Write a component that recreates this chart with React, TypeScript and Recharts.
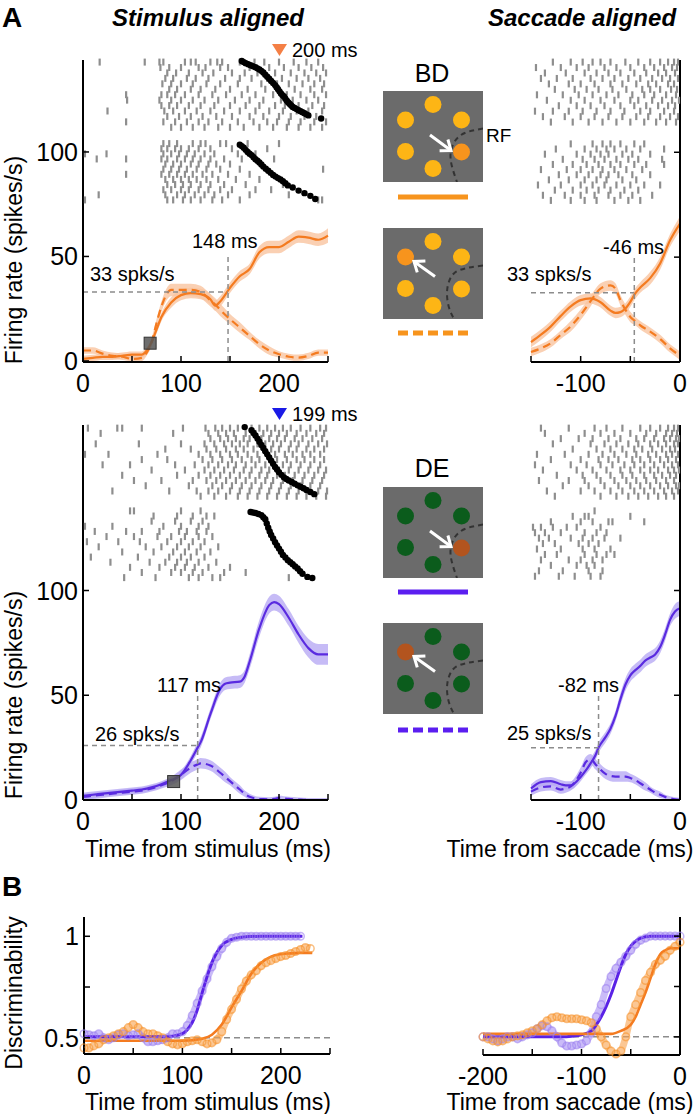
import React from 'react';
import { ComposedChart, Line, Area, Scatter, XAxis, YAxis, ReferenceLine, ReferenceArea, Cell } from 'recharts';

const FONT = '"Liberation Sans", Arial, Helvetica, sans-serif';
const ORANGE = '#F47B20';
const ORANGE_BAND = '#F9C4A0';
const PURPLE = '#5A2BE0';
const PURPLE_BAND = '#B8AAF4';
const RASTER_GRAY = '#8e8e8e';
const REF_GRAY = '#8c8c8c';
const AXIS = { stroke: '#000', strokeWidth: 2 };

// ---------- Panel A, BD (orange), stimulus aligned ----------
const bdStimTime = [0, 10, 20, 30, 40, 50, 60, 65, 70, 75, 80, 90, 100, 110, 120, 130, 135, 140, 150, 160, 170, 180, 190, 200, 210, 220, 230, 240, 250];
const bdStimSolid = [1, 1.5, 2, 2, 2.5, 3, 3, 5, 9, 15, 21, 28, 31.5, 32.5, 32, 29.5, 26.5, 28.5, 35, 40.5, 44, 52, 54.5, 54.5, 57, 59.5, 59, 58, 60];
const bdStimSolidSe = [1.5, 1.5, 1.5, 1.5, 1.5, 1.5, 1.5, 1.5, 1.5, 2, 2, 2.5, 2.5, 2.5, 2.5, 2.5, 2.5, 2.5, 2.5, 2.5, 2.5, 3, 3, 3, 3, 3, 3, 3, 3.5];
const bdStimDashed = [5, 5, 3.5, 2.5, 2, 1, 1.5, 4, 9, 18, 26, 34, 34, 34, 33, 29, 27, 24.5, 20, 16, 12, 8, 5, 3.2, 2, 1.6, 2.4, 4, 4];
const bdStimDashedSe = [1.5, 1.5, 1.5, 1.5, 1.5, 1.5, 1.5, 1.5, 2, 2, 2.5, 3, 3, 3, 3, 3, 3, 3, 2.5, 2.5, 2, 2, 2, 1.5, 1.5, 1.5, 1.5, 1.5, 1.5];

const bdStimRasterIn = [
  [17, 63, 78, 82, 104, 110, 115, 130, 137, 142, 160, 175, 185, 200, 215, 228, 240],
  [79, 88, 100, 118, 125, 140, 148, 170, 190, 205, 220, 233, 245],
  [86, 95, 108, 122, 133, 152, 165, 178, 196, 212, 226, 238, 248],
  [84, 92, 106, 115, 128, 145, 160, 172, 188, 203, 218, 230, 242],
  [81, 90, 100, 112, 126, 140, 158, 182, 198, 210, 224, 236, 246],
  [88, 96, 110, 120, 135, 150, 168, 186, 200, 216, 232, 244],
  [44, 80, 86, 94, 104, 118, 132, 146, 162, 176, 194, 208, 222, 236, 248],
  [45, 78, 90, 100, 112, 124, 138, 155, 170, 184, 202, 214, 228, 240],
  [80, 88, 96, 108, 120, 134, 150, 166, 180, 196, 206, 220, 234, 246],
  [25, 83, 92, 104, 116, 130, 144, 160, 176, 190, 204, 218, 230, 244],
  [86, 98, 110, 122, 136, 152, 170, 184, 200, 212, 226, 238],
  [44, 82, 94, 106, 118, 128, 142, 158, 174, 188, 198, 210, 222, 236, 248],
  [90, 100, 112, 124, 138, 150, 164, 180, 194, 208, 220, 232, 244],
];
const bdStimRasterOut = [
  [82, 88, 96, 112, 120, 125, 140, 146, 168, 200],
  [80, 86, 94, 100, 108, 118, 130, 152, 188],
  [2, 24, 82, 90, 98, 106, 114, 124, 134, 158, 176],
  [14, 44, 80, 86, 96, 104, 112, 120, 130, 144, 162, 195],
  [84, 92, 100, 110, 118, 128, 136, 150],
  [82, 90, 98, 106, 116, 126, 140, 160, 245],
  [44, 80, 88, 96, 104, 112, 122, 132, 148, 170],
  [84, 92, 100, 108, 116, 126, 138, 156, 180],
  [86, 94, 102, 110, 120, 130, 144, 166, 204],
  [82, 90, 100, 108, 118, 128, 140, 152, 176, 192],
  [16, 84, 96, 104, 114, 124, 134, 148, 170, 210],
  [2, 86, 92, 102, 110, 120, 132, 142, 160, 240, 244],
];
const bdSaccadeTimesIn = [[162, 143.5], [164, 143], [166, 142.5], [168.5, 142], [171, 141.5], [173.5, 141], [176, 140.5], [178, 140], [180, 139.5], [182, 138.8], [184, 138], [186, 137], [188, 136], [190, 135], [192, 134], [194, 133], [196, 132], [197.5, 131], [199, 130], [200.5, 129], [202, 128], [203.5, 127.2], [205, 126.5], [206.5, 125.5], [208, 124.5], [209.5, 123.7], [211, 123], [212.5, 122.2], [214, 121.5], [216, 121], [218, 120.5], [220, 120], [222, 119.5], [224, 119], [226, 118.5], [228, 118], [230, 117.5], [243, 116]];
const bdSaccadeTimesOut = [[160, 103.5], [162, 102.8], [164, 102], [166, 101], [168, 100], [170, 99.2], [172, 98.5], [174, 97.5], [176, 96.5], [178, 95.8], [180, 95], [182, 94], [184, 93], [186.5, 92], [189, 91], [191.5, 90], [194, 89], [196.5, 88.2], [199, 87.5], [201.5, 86.8], [204, 86], [206.5, 85], [209, 84], [214, 83], [220, 81.5], [226, 80.3], [232, 79], [237, 77.5]];

// ---------- Panel A, BD (orange), saccade aligned ----------
const bdSacTime = [-150, -140, -130, -120, -110, -100, -90, -80, -70, -65, -60, -55, -50, -45, -40, -30, -20, -10, 0];
const bdSacSolid = [9.5, 13, 17, 22, 26.5, 29.5, 30.3, 28.5, 24.5, 23.4, 23.8, 25.5, 28.7, 32.7, 35.5, 40, 47, 58, 66];
const bdSacSolidSe = [2.5, 2.5, 2.5, 2.5, 2.5, 2.5, 2.5, 2.5, 2.5, 2.5, 2.5, 2.5, 2.5, 2.5, 2.5, 3, 3, 3, 3.5];
const bdSacDashed = [4.8, 6.5, 9, 13, 17, 22.5, 29, 35, 36.5, 35, 29.5, 25, 21.5, 19.5, 17.5, 14.5, 11, 6.5, 3];
const bdSacDashedSe = [2, 2, 2, 2, 2.5, 2.5, 2.5, 2.5, 2.5, 2.5, 2.5, 2.5, 2.5, 2, 2, 2, 2, 2, 2];
const bdSacRasterIn = [
  [-128, -110, -98, -88, -80, -70, -55, -42, -30, -20, -12, -6, -2],
  [-145, -120, -104, -92, -76, -64, -50, -36, -26, -16, -8, -3],
  [-136, -115, -96, -84, -72, -60, -46, -34, -22, -14, -5],
  [-140, -124, -108, -90, -78, -66, -52, -40, -28, -18, -10, -2],
  [-132, -112, -100, -86, -70, -58, -44, -32, -24, -12, -6],
  [-126, -106, -94, -82, -68, -54, -38, -30, -20, -9, -3],
  [-144, -118, -102, -88, -74, -62, -48, -36, -26, -14, -4],
  [-134, -110, -96, -80, -66, -50, -42, -28, -18, -8, -1],
  [-122, -104, -90, -76, -60, -46, -34, -22, -12, -5],
  [-146, -128, -112, -98, -84, -70, -56, -40, -30, -16, -6],
  [-138, -116, -100, -86, -72, -58, -44, -32, -20, -10, -2],
  [-130, -108, -92, -78, -64, -50, -36, -24, -14, -4],
];
const bdSacRasterOut = [
  [-110, -88, -78, -70, -60, -46, -36],
  [-125, -96, -84, -74, -66, -54, -40, -16],
  [-136, -104, -90, -80, -72, -58, -48, -30],
  [-118, -98, -86, -76, -64, -52, -42, -18],
  [-128, -108, -94, -82, -70, -60, -46, -34, -16],
  [-140, -114, -100, -88, -78, -66, -54, -38],
  [-122, -104, -92, -80, -72, -62, -48, -30],
  [-132, -112, -96, -84, -74, -58, -44],
  [-143, -120, -100, -88, -76, -64, -50, -36, -20],
  [-126, -108, -94, -82, -70, -56, -42],
  [-138, -116, -100, -86, -72, -60, -48, -28],
  [-130, -110, -96, -84, -66, -52, -40],
];

// ---------- Panel A, DE (purple), stimulus aligned ----------
const deStimTime = [0, 10, 20, 30, 40, 50, 60, 70, 80, 90, 100, 110, 117, 120, 130, 140, 145, 150, 160, 165, 170, 180, 190, 195, 200, 210, 220, 230, 240, 250];
const deStimSolid = [2, 2.5, 3, 3.5, 4, 4.5, 5, 6, 7.5, 9.5, 12, 19, 25, 27.5, 41, 53, 55.5, 56, 56.5, 59, 66, 82, 93, 94.5, 93.5, 87, 79, 72.5, 69.5, 69.5];
const deStimSolidSe = [1.5, 1.5, 1.5, 1.5, 1.5, 1.5, 1.5, 1.5, 1.5, 1.5, 2, 2, 2.5, 2.5, 2.5, 3, 3, 3, 3, 3, 3.5, 4, 4, 4, 4, 4, 4, 4.5, 5, 5];
const deStimDashed = [1.5, 2, 2.5, 3, 3.5, 4, 4.5, 5.5, 7, 9, 12, 15.5, 17, 17.5, 16.5, 13, 11, 9, 5, 3, 1.5, 0.5, 0.3, 0.5, 1, 0.5, 0.2, 0, 0, 0];
const deStimDashedSe = [1.5, 1.5, 1.5, 1.5, 1.5, 1.5, 1.5, 1.5, 1.5, 2, 2.5, 2.5, 2.5, 2.5, 2.5, 2.5, 2.5, 2, 2, 1.5, 1.5, 1, 1, 1, 1, 1, 1, 1, 1, 1];
const deStimRasterIn = [
  [5, 35, 40, 60, 102, 125, 135, 142, 150, 158, 172, 180, 188, 196, 204, 212, 222, 232, 242, 248],
  [18, 92, 128, 138, 146, 154, 166, 176, 184, 192, 200, 208, 218, 228, 238, 246],
  [130, 140, 148, 156, 164, 170, 182, 190, 198, 206, 216, 224, 234, 244],
  [13, 57, 100, 124, 134, 144, 152, 160, 168, 178, 186, 194, 202, 212, 220, 230, 240, 249],
  [84, 110, 126, 136, 146, 156, 164, 174, 184, 192, 200, 210, 218, 228, 236, 246],
  [2, 26, 76, 118, 130, 140, 150, 158, 168, 178, 188, 196, 206, 214, 224, 232, 242],
  [60, 86, 122, 132, 142, 152, 162, 172, 180, 190, 198, 208, 218, 226, 236, 246],
  [20, 48, 94, 114, 128, 138, 148, 156, 166, 176, 186, 194, 204, 212, 222, 232, 242],
  [70, 104, 124, 134, 144, 154, 164, 172, 182, 190, 200, 210, 220, 230, 240, 248],
  [40, 96, 118, 130, 140, 150, 160, 170, 180, 188, 198, 206, 216, 226, 236, 246],
  [52, 80, 112, 126, 136, 146, 156, 166, 176, 186, 194, 204, 214, 224, 234, 244],
  [64, 108, 132, 142, 152, 162, 172, 182, 192, 202, 212, 222, 232, 242],
  [30, 88, 116, 128, 138, 150, 160, 170, 180, 190, 200, 210, 220, 230, 240, 249],
  [120, 134, 146, 158, 168, 178, 188, 198, 208, 218, 228, 238, 248],
];
const deStimRasterOut = [
  [48, 52, 100, 120],
  [72, 96, 112, 126, 134],
  [70, 94, 110, 122],
  [2, 30, 82, 100, 118, 128],
  [12, 44, 60, 78, 98, 106, 116, 126],
  [24, 52, 76, 90, 104, 118, 132],
  [4, 36, 58, 86, 100, 112, 124],
  [16, 64, 80, 96, 108, 120, 138],
  [40, 72, 92, 104, 116, 130],
  [8, 56, 88, 100, 110, 124],
  [28, 68, 84, 96, 106, 118, 136],
  [48, 78, 94, 104, 114, 128, 150],
  [60, 90, 100, 112, 122, 144, 166],
  [42, 74, 108, 118, 132, 140, 210],
];
const deSaccadeTimesIn = [[165, 178], [172, 176.5], [174, 175.2], [176, 174], [178, 172.5], [180, 171], [182, 169.5], [184, 168], [186, 166.5], [188, 165], [190, 163.5], [192, 162], [194, 160.5], [196, 159], [198, 157.8], [200, 156.5], [202.5, 155.2], [205, 154], [207.5, 153.2], [210, 152.5], [213, 151.8], [216, 151], [219, 150.2], [222, 149.5], [225, 148.8], [228, 148], [232, 147], [236, 146]];
const deSaccadeTimesOut = [[171, 137.5], [173.5, 137.2], [176, 137], [179, 136.5], [182, 136], [184, 135], [186, 134], [187.5, 132], [189, 130], [190.5, 128.2], [192, 126.5], [194, 124.8], [196, 123], [198, 121.5], [200, 120], [202, 118.5], [204, 117], [206.5, 115.8], [209, 114.5], [211.5, 113.5], [214, 112.5], [216.5, 111.5], [219, 110.5], [221.5, 109.2], [224, 108], [229, 106.5], [234, 106]];

// ---------- Panel A, DE (purple), saccade aligned ----------
const deSacTime = [-150, -140, -130, -120, -115, -110, -100, -95, -90, -85, -82, -75, -70, -65, -60, -55, -50, -45, -40, -35, -30, -25, -20, -15, -10, -5, 0];
const deSacSolid = [5.5, 8.5, 9, 7.5, 7, 7, 11, 14, 17.5, 21.5, 25, 30, 34, 40, 48, 55, 59.5, 62, 64, 66.5, 68, 69.5, 73, 79, 86, 90, 91.5];
const deSacSolidSe = [2, 2, 2, 2, 2, 2, 2, 2, 2.5, 2.5, 2.5, 2.5, 2.5, 2.5, 3, 3, 3, 3, 3, 3, 3, 3, 3, 3, 3, 3.5, 3.5];
const deSacDashed = [4, 6, 6.5, 5, 5.5, 6.5, 13, 18, 19.5, 17, 15.5, 12.5, 11.5, 11.2, 11.2, 11.2, 10.5, 9.5, 8, 6.5, 5, 3.5, 2.5, 1.5, 0.8, 0.3, 0];
const deSacDashedSe = [2, 2, 2, 2, 2, 2, 2.5, 2.5, 2.5, 2.5, 2.5, 2.5, 2.5, 2.5, 2.5, 2.5, 2, 2, 2, 2, 1.5, 1.5, 1.5, 1, 1, 1, 1];
const deSacRasterIn = [
  [-140, -112, -86, -74, -58, -40, -30, -20, -12, -6, -2],
  [-136, -96, -80, -66, -50, -34, -24, -14, -8, -3],
  [-120, -102, -88, -72, -60, -44, -36, -26, -16, -10, -4, -1],
  [-128, -90, -76, -64, -52, -42, -30, -22, -14, -6, -2],
  [-108, -84, -70, -58, -46, -38, -28, -18, -10, -5],
  [-144, -116, -92, -78, -66, -54, -44, -32, -24, -14, -8, -2],
  [-130, -100, -82, -72, -62, -48, -40, -30, -20, -12, -4],
  [-146, -110, -94, -80, -68, -56, -46, -36, -26, -16, -8, -2],
  [-138, -104, -88, -74, -60, -50, -40, -30, -22, -12, -6, -1],
  [-124, -98, -84, -70, -58, -48, -36, -26, -18, -10, -4],
  [-142, -112, -96, -80, -66, -54, -44, -34, -24, -14, -6],
  [-118, -92, -76, -62, -50, -40, -30, -20, -12, -4, -1],
  [-134, -100, -86, -70, -58, -46, -36, -26, -16, -8, -2],
  [-126, -80, -64, -52, -42, -32, -22, -14, -6],
];
const deSacRasterOut = [
  [-86],
  [-108, -96, -92, -50],
  [-130, -100, -88, -72, -68, -36],
  [-148, -140, -128, -114, -104, -80],
  [-146, -136, -120, -96, -84, -74],
  [-142, -132, -110, -98, -88, -76, -60],
  [-138, -126, -102, -92, -82],
  [-144, -120, -98, -86, -70],
  [-136, -124, -96, -84, -74, -66],
  [-140, -112, -100, -88, -78],
  [-130, -104, -94, -86],
  [-142, -118, -92, -78],
  [-146, -122, -106, -90, -80],
];

// ---------- Panel B, discriminability ----------
const bStimPurpleT = [0, 5, 10, 15, 20, 25, 30, 35, 40, 45, 50, 55, 60, 65, 70, 75, 80, 85, 90, 95, 100, 105, 110, 115, 120, 125, 130, 135, 140, 145, 150, 155, 160, 165, 170, 175, 180, 185, 190, 195, 200, 205, 210, 215, 220];
const bStimPurple = [0.52, 0.515, 0.51, 0.52, 0.5, 0.49, 0.5, 0.515, 0.52, 0.51, 0.515, 0.52, 0.5, 0.48, 0.48, 0.485, 0.49, 0.5, 0.52, 0.52, 0.53, 0.56, 0.61, 0.67, 0.73, 0.79, 0.85, 0.9, 0.94, 0.97, 0.99, 0.995, 1, 1, 1, 1, 1, 1, 1, 1, 1, 1, 1, 1, 1];
const bStimOrangeT = [0, 5, 10, 15, 20, 25, 30, 35, 40, 45, 50, 55, 60, 65, 70, 75, 80, 85, 90, 95, 100, 105, 110, 115, 120, 125, 130, 135, 140, 145, 150, 155, 160, 165, 170, 175, 180, 185, 190, 195, 200, 205, 210, 215, 220, 225, 230];
const bStimOrange = [0.45, 0.45, 0.46, 0.47, 0.49, 0.5, 0.51, 0.52, 0.53, 0.55, 0.565, 0.55, 0.53, 0.52, 0.52, 0.51, 0.5, 0.48, 0.47, 0.465, 0.47, 0.48, 0.485, 0.49, 0.48, 0.47, 0.475, 0.49, 0.53, 0.59, 0.64, 0.69, 0.74, 0.78, 0.81, 0.83, 0.855, 0.87, 0.88, 0.89, 0.9, 0.905, 0.915, 0.925, 0.935, 0.945, 0.94];
const bStimPurpleFitT = [0, 20, 40, 60, 80, 90, 100, 105, 110, 115, 120, 125, 130, 135, 140, 150, 160, 180, 200, 222];
const bStimPurpleFit = [0.505, 0.505, 0.505, 0.505, 0.505, 0.508, 0.52, 0.54, 0.575, 0.635, 0.72, 0.8, 0.87, 0.92, 0.955, 0.985, 0.995, 1, 1, 1];
const bStimOrangeFitT = [0, 20, 40, 60, 80, 100, 110, 120, 130, 140, 150, 160, 170, 180, 190, 200, 210, 220, 232];
const bStimOrangeFit = [0.485, 0.485, 0.485, 0.485, 0.485, 0.486, 0.488, 0.495, 0.515, 0.565, 0.65, 0.73, 0.815, 0.87, 0.9, 0.912, 0.916, 0.918, 0.918];

const bSacT = [-200, -195, -190, -185, -180, -175, -170, -165, -160, -155, -150, -145, -140, -135, -130, -125, -120, -115, -110, -105, -100, -95, -90, -85, -80, -75, -70, -65, -60, -55, -50, -45, -40, -35, -30, -25, -20, -15, -10, -5, 0];
const bSacPurple = [0.5, 0.5, 0.49, 0.48, 0.49, 0.5, 0.5, 0.49, 0.5, 0.51, 0.52, 0.54, 0.555, 0.55, 0.53, 0.5, 0.47, 0.455, 0.455, 0.46, 0.465, 0.48, 0.52, 0.6, 0.66, 0.74, 0.8, 0.84, 0.87, 0.9, 0.93, 0.96, 0.98, 0.99, 1, 1, 1, 1, 1, 1, 1];
const bSacOrange = [0.5, 0.49, 0.48, 0.475, 0.48, 0.49, 0.5, 0.505, 0.51, 0.52, 0.53, 0.54, 0.56, 0.58, 0.595, 0.6, 0.595, 0.59, 0.59, 0.59, 0.585, 0.58, 0.57, 0.54, 0.5, 0.46, 0.43, 0.415, 0.43, 0.5, 0.6, 0.66, 0.72, 0.78, 0.82, 0.86, 0.88, 0.9, 0.93, 0.95, 0.97];
const bSacPurpleFitT = [-200, -150, -120, -110, -100, -90, -85, -80, -75, -70, -65, -60, -55, -50, -45, -40, -30, 0];
const bSacPurpleFit = [0.5, 0.5, 0.5, 0.503, 0.51, 0.53, 0.56, 0.6, 0.65, 0.71, 0.78, 0.85, 0.91, 0.95, 0.975, 0.99, 1, 1];
const bSacOrangeFitT = [-200, -150, -100, -70, -60, -50, -45, -40, -35, -30, -25, -20, -15, -10, 0];
const bSacOrangeFit = [0.515, 0.515, 0.515, 0.515, 0.53, 0.56, 0.6, 0.66, 0.72, 0.79, 0.86, 0.91, 0.93, 0.94, 0.94];

// ---------- schematic targets ----------
const hexX = [0, -27.5, 28.5, -27.5, 28.5, 0];
const hexY = [32, 16.5, 16.5, -15, -15.5, -32];
const rfNear = [[50, 8], [36, 5], [26, 0], [20, -8], [17.5, -18], [19, -30], [24, -45.5]];
const rfFar = [[50, 8], [34, 5.5], [22, 1], [16, -8], [14, -20], [16, -34], [21, -45.5]];
const arrowIn = [[-3, 1.5], [18, -14]];
const arrowOut = [[2, -3], [-19, 12]];

// ---------- helpers ----------
const makeRows = (t: number[], s: number[], sSe: number[], d: number[], dSe: number[]) =>
  t.map((x, i) => ({
    t: x,
    s: s[i],
    d: d[i],
    sBand: [s[i] - sSe[i], s[i] + sSe[i]],
    dBand: [Math.max(0, d[i] - dSe[i]), d[i] + dSe[i]],
  }));

const rasterPoints = (rows: number[][], top: number, step: number) =>
  rows.flatMap((row, i) => row.map((t) => ({ t, v: top - i * step })));

const pairs = (p: number[][]) => p.map(([t, v]) => ({ t, v }));
const series = (t: number[], v: number[]) => t.map((x, i) => ({ t: x, v: v[i] }));

const XTick = (p: any) => {
  const { x, y, payload, labels } = p;
  return (
    <g>
      <line x1={x} x2={x} y1={y} y2={y - 6} stroke="#000" strokeWidth={1.5} />
      {labels.includes(payload.value) && (
        <text x={x} y={y + 30} textAnchor="middle" fontSize={25} fontFamily={FONT} fill="#000">
          {payload.value}
        </text>
      )}
    </g>
  );
};

const YTick = (p: any) => {
  const { x, y, payload, labels, side } = p;
  const dir = side === 'left' ? 1 : -1;
  return (
    <g>
      <line x1={x} x2={x + dir * 6} y1={y} y2={y} stroke="#000" strokeWidth={1.5} />
      {labels.includes(payload.value) && (
        <text x={x - 5} y={y + 9} textAnchor="end" fontSize={25} fontFamily={FONT} fill="#000">
          {payload.value}
        </text>
      )}
    </g>
  );
};

const RasterTick = (p: any) => <rect x={p.cx - 1.1} y={p.cy - 3.5} width={2.2} height={7} fill={RASTER_GRAY} />;
const SaccadeDot = (p: any) => <circle cx={p.cx} cy={p.cy} r={3.2} fill="#000" />;
const Square = (p: any) => <rect x={p.cx - 6} y={p.cy - 6} width={12} height={12} fill="#555" fillOpacity={0.85} stroke="#333" strokeWidth={1} />;

type Box = { x: number; y: number; w: number; h: number };

function Frame(props: any) {
  const { box, side, xDomain, yDomain, xTicks, xLabels, yTicks, yLabels, data, children } = props;
  const padL = side === 'left' ? 70 : 36;
  const padR = side === 'right' ? 70 : 14;
  const padT = 12;
  const padB = 40;
  return (
    <div style={{ position: 'absolute', left: box.x - padL, top: box.y - padT }}>
      <ComposedChart
        width={box.w + padL + padR}
        height={box.h + padT + padB}
        data={data}
        margin={{ top: padT, bottom: 0, left: side === 'left' ? 0 : padL, right: side === 'right' ? 0 : padR }}
      >
        <XAxis dataKey="t" type="number" domain={xDomain} ticks={xTicks} interval={0} height={padB}
          tickSize={0} tickMargin={0} tickLine={false} axisLine={AXIS} tick={<XTick labels={xLabels} />} />
        <YAxis type="number" domain={yDomain} ticks={yTicks} interval={0} orientation={side}
          width={side === 'left' ? padL : padR} tickSize={0} tickMargin={0} tickLine={false}
          axisLine={AXIS} tick={<YTick labels={yLabels} side={side} />} />
        {children}
      </ComposedChart>
    </div>
  );
}

function RatePanel(props: any) {
  const { rows, color, band, rasterIn, rasterOut, dotsIn, dotsOut, square, thr, cross, xStart } = props;
  return (
    <Frame {...props} data={rows}>
      <Scatter data={rasterIn} dataKey="v" shape={RasterTick} isAnimationActive={false} />
      <Scatter data={rasterOut} dataKey="v" shape={RasterTick} isAnimationActive={false} />
      {dotsIn && <Scatter data={dotsIn} dataKey="v" shape={SaccadeDot} isAnimationActive={false} />}
      {dotsOut && <Scatter data={dotsOut} dataKey="v" shape={SaccadeDot} isAnimationActive={false} />}
      <Area dataKey="dBand" type="monotone" fill={band} fillOpacity={0.8} stroke="none" isAnimationActive={false} />
      <Area dataKey="sBand" type="monotone" fill={band} fillOpacity={0.8} stroke="none" isAnimationActive={false} />
      <Line dataKey="d" type="monotone" stroke={color} strokeWidth={2.2} strokeDasharray="8 5" dot={false} isAnimationActive={false} />
      <Line dataKey="s" type="monotone" stroke={color} strokeWidth={2.2} dot={false} isAnimationActive={false} />
      <ReferenceLine segment={[{ x: xStart, y: thr }, { x: cross, y: thr }]} stroke={REF_GRAY} strokeWidth={1.5} strokeDasharray="5 4" />
      <ReferenceLine segment={[{ x: cross, y: 0 }, { x: cross, y: 50 }]} stroke={REF_GRAY} strokeWidth={1.5} strokeDasharray="5 4" />
      {square && <Scatter data={square} dataKey="v" shape={Square} isAnimationActive={false} />}
    </Frame>
  );
}

function DiscPanel(props: any) {
  const { purple, orange, purpleFit, orangeFit, xStart, xEnd } = props;
  const circles = (color: string) => ({ r: 3.8, stroke: color, strokeWidth: 1.5, fill: 'none' });
  return (
    <Frame {...props} data={purpleFit}>
      <ReferenceLine segment={[{ x: xStart, y: 0.5 }, { x: xEnd, y: 0.5 }]} stroke={REF_GRAY} strokeWidth={1.5} strokeDasharray="6 4" />
      <Line data={purple} dataKey="v" type="monotone" stroke="#A78DF3" strokeOpacity={0.6} strokeWidth={7} dot={circles('#9F84F0')} isAnimationActive={false} />
      <Line data={orange} dataKey="v" type="monotone" stroke="#F9A24C" strokeOpacity={0.6} strokeWidth={7} dot={circles('#F7952F')} isAnimationActive={false} />
      <Line data={purpleFit} dataKey="v" type="monotone" stroke="#5A22E6" strokeWidth={3} dot={false} isAnimationActive={false} />
      <Line data={orangeFit} dataKey="v" type="monotone" stroke={ORANGE} strokeWidth={2.6} dot={false} isAnimationActive={false} />
    </Frame>
  );
}

function Schematic(props: any) {
  const { left, top, dotColor, targetColor, target, rf, arrow } = props;
  const dots = hexX.map((x, i) => ({ x, y: hexY[i] }));
  const rfData = rf.map(([x, y]: number[]) => ({ x, y }));
  const arrowData = arrow.map(([x, y]: number[]) => ({ x, y }));
  const ang = Math.atan2(-(arrow[1][1] - arrow[0][1]), arrow[1][0] - arrow[0][0]);
  const head = (p: any) => {
    if (p.index !== 1) return <g key={`h${p.index}`} />;
    const pt = (dx: number, dy: number) =>
      `${p.cx + dx * Math.cos(ang) - dy * Math.sin(ang)},${p.cy + dx * Math.sin(ang) + dy * Math.cos(ang)}`;
    return (
      <polyline key="head" points={`${pt(-9, -7)} ${pt(0, 0)} ${pt(-9, 7)}`} fill="none" stroke="#fff" strokeWidth={3} strokeLinejoin="miter" />
    );
  };
  return (
    <div style={{ position: 'absolute', left, top }}>
      <ComposedChart width={100} height={91} margin={{ top: 0, right: 0, bottom: 0, left: 0 }}>
        <XAxis dataKey="x" type="number" domain={[-50, 50]} hide />
        <YAxis type="number" domain={[-45.5, 45.5]} hide />
        <ReferenceArea x1={-50} x2={50} y1={-45.5} y2={45.5} fill="#6b6b6b" fillOpacity={1} stroke="none" />
        <Line data={rfData} dataKey="y" type="natural" stroke="#333" strokeWidth={2} strokeDasharray="5 4" dot={false} isAnimationActive={false} />
        <Scatter data={dots} dataKey="y" isAnimationActive={false} shape={(p: any) => <circle cx={p.cx} cy={p.cy} r={8.5} fill={p.fill} />}>
          {dots.map((_, i) => (
            <Cell key={`c${i}`} fill={i === target ? targetColor : dotColor} />
          ))}
        </Scatter>
        <Line data={arrowData} dataKey="y" type="linear" stroke="#fff" strokeWidth={3} dot={head} isAnimationActive={false} />
      </ComposedChart>
    </div>
  );
}

const txt = (x: number, y: number, s: string, size = 20, extra: any = {}) => (
  <text x={x} y={y} fontSize={size} fontFamily={FONT} fill="#000" {...extra}>{s}</text>
);

export default function App() {
  const topStim: Box = { x: 83, y: 60, w: 245, h: 302 };
  const topSac: Box = { x: 531, y: 60, w: 149, h: 302 };
  const botStim: Box = { x: 83, y: 425, w: 245, h: 375 };
  const botSac: Box = { x: 531, y: 425, w: 149, h: 375 };
  const bStim: Box = { x: 84, y: 917, w: 246, h: 137 };
  const bSac: Box = { x: 483, y: 917, w: 197, h: 138 };

  const stimX = { xDomain: [0, 250], xTicks: [0, 50, 100, 150, 200, 250], xLabels: [0, 100, 200] };
  const sacX = { xDomain: [-150, 0], xTicks: [-150, -100, -50, 0], xLabels: [-100, 0] };

  return (
    <div style={{ position: 'absolute', left: 0, top: 0, width: 698, height: 1114, background: '#fff', fontFamily: FONT }}>
      <RatePanel box={topStim} side="left" {...stimX} yDomain={[0, 144]} yTicks={[0, 50, 100]} yLabels={[0, 50, 100]}
        rows={makeRows(bdStimTime, bdStimSolid, bdStimSolidSe, bdStimDashed, bdStimDashedSe)} color={ORANGE} band={ORANGE_BAND}
        rasterIn={rasterPoints(bdStimRasterIn, 143, 2.6)} rasterOut={rasterPoints(bdStimRasterOut, 104, 2.45)}
        dotsIn={pairs(bdSaccadeTimesIn)} dotsOut={pairs(bdSaccadeTimesOut)} square={[{ t: 68.5, v: 8.5 }]}
        thr={33} cross={148} xStart={0} />
      <RatePanel box={topSac} side="right" {...sacX} yDomain={[0, 144]} yTicks={[0, 50, 100]} yLabels={[]}
        rows={makeRows(bdSacTime, bdSacSolid, bdSacSolidSe, bdSacDashed, bdSacDashedSe)} color={ORANGE} band={ORANGE_BAND}
        rasterIn={rasterPoints(bdSacRasterIn, 143, 2.6)} rasterOut={rasterPoints(bdSacRasterOut, 104, 2.45)}
        thr={33} cross={-46} xStart={-150} />
      <RatePanel box={botStim} side="left" {...stimX} yDomain={[0, 179]} yTicks={[0, 50, 100]} yLabels={[0, 50, 100]}
        rows={makeRows(deStimTime, deStimSolid, deStimSolidSe, deStimDashed, deStimDashedSe)} color={PURPLE} band={PURPLE_BAND}
        rasterIn={rasterPoints(deStimRasterIn, 177.5, 2.5)} rasterOut={rasterPoints(deStimRasterOut, 138, 2.45)}
        dotsIn={pairs(deSaccadeTimesIn)} dotsOut={pairs(deSaccadeTimesOut)} square={[{ t: 92.5, v: 8.8 }]}
        thr={26} cross={117} xStart={0} />
      <RatePanel box={botSac} side="right" {...sacX} yDomain={[0, 179]} yTicks={[0, 50, 100]} yLabels={[]}
        rows={makeRows(deSacTime, deSacSolid, deSacSolidSe, deSacDashed, deSacDashedSe)} color={PURPLE} band={PURPLE_BAND}
        rasterIn={rasterPoints(deSacRasterIn, 177.5, 2.5)} rasterOut={rasterPoints(deSacRasterOut, 138, 2.6)}
        thr={25} cross={-82} xStart={-150} />

      <DiscPanel box={bStim} side="left" {...stimX} yDomain={[0.42, 1.095]} yTicks={[0.5, 0.75, 1]} yLabels={[0.5, 1]}
        purple={series(bStimPurpleT, bStimPurple)} orange={series(bStimOrangeT, bStimOrange)}
        purpleFit={series(bStimPurpleFitT, bStimPurpleFit)} orangeFit={series(bStimOrangeFitT, bStimOrangeFit)}
        xStart={0} xEnd={250} />
      <DiscPanel box={bSac} side="right" xDomain={[-200, 0]} xTicks={[-200, -150, -100, -50, 0]} xLabels={[-200, -100, 0]}
        yDomain={[0.41, 1.095]} yTicks={[0.5, 0.75, 1]} yLabels={[]}
        purple={series(bSacT, bSacPurple)} orange={series(bSacT, bSacOrange)}
        purpleFit={series(bSacPurpleFitT, bSacPurpleFit)} orangeFit={series(bSacOrangeFitT, bSacOrangeFit)}
        xStart={-200} xEnd={0} />

      <Schematic left={383} top={91} dotColor="#FDB515" targetColor="#F7941D" target={4} rf={rfNear} arrow={arrowIn} />
      <Schematic left={383} top={228} dotColor="#FDB515" targetColor="#F7941D" target={1} rf={rfFar} arrow={arrowOut} />
      <Schematic left={383} top={487} dotColor="#0B5C1C" targetColor="#B3541E" target={4} rf={rfNear} arrow={arrowIn} />
      <Schematic left={383} top={623} dotColor="#0B5C1C" targetColor="#B3541E" target={1} rf={rfFar} arrow={arrowOut} />

      <svg width={698} height={1114} style={{ position: 'absolute', left: 0, top: 0, pointerEvents: 'none' }}>
        {txt(2, 27, 'A', 28, { fontWeight: 'bold' })}
        {txt(208, 26, 'Stimulus aligned', 24, { fontWeight: 'bold', fontStyle: 'italic', textAnchor: 'middle' })}
        {txt(582, 26, 'Saccade aligned', 24, { fontWeight: 'bold', fontStyle: 'italic', textAnchor: 'middle' })}

        <polygon points="272,44 287,44 279.5,56" fill="#F47F45" />
        {txt(292, 57, '200 ms')}
        {txt(192, 248, '148 ms')}
        {txt(90, 281, '33 spks/s')}
        {txt(603, 254, '-46 ms')}
        {txt(507, 281, '33 spks/s')}
        {txt(432, 82, 'BD', 25, { textAnchor: 'middle' })}
        {txt(486, 142, 'RF', 19)}
        {txt(22, 260, 'Firing rate (spikes/s)', 23, { textAnchor: 'middle', transform: 'rotate(-90 22 260)' })}

        <polygon points="272,408 287,408 279.5,420" fill="#1A1AE6" />
        {txt(292, 421, '199 ms')}
        {txt(157, 692, '117 ms')}
        {txt(95, 741, '26 spks/s')}
        {txt(558, 692, '-82 ms')}
        {txt(507, 740, '25 spks/s')}
        {txt(432, 477, 'DE', 25, { textAnchor: 'middle' })}
        {txt(22, 695, 'Firing rate (spikes/s)', 23, { textAnchor: 'middle', transform: 'rotate(-90 22 695)' })}
        {txt(208, 857, 'Time from stimulus (ms)', 23, { textAnchor: 'middle' })}
        {txt(570, 857, 'Time from saccade (ms)', 23, { textAnchor: 'middle' })}

        {txt(2, 896, 'B', 28, { fontWeight: 'bold' })}
        {txt(22, 993, 'Discriminability', 23, { textAnchor: 'middle', transform: 'rotate(-90 22 993)' })}
        {txt(208, 1110, 'Time from stimulus (ms)', 23, { textAnchor: 'middle' })}
        {txt(570, 1110, 'Time from saccade (ms)', 23, { textAnchor: 'middle' })}

        <line x1={398} x2={468} y1={197} y2={197} stroke="#F7941D" strokeWidth={5} />
        <line x1={398} x2={468} y1={333} y2={333} stroke="#F7941D" strokeWidth={5} strokeDasharray="10 5" />
        <line x1={398} x2={468} y1={592} y2={592} stroke="#5B1EF0" strokeWidth={5} />
        <line x1={398} x2={468} y1={730} y2={730} stroke="#5B1EF0" strokeWidth={5} strokeDasharray="10 5" />
      </svg>
    </div>
  );
}
